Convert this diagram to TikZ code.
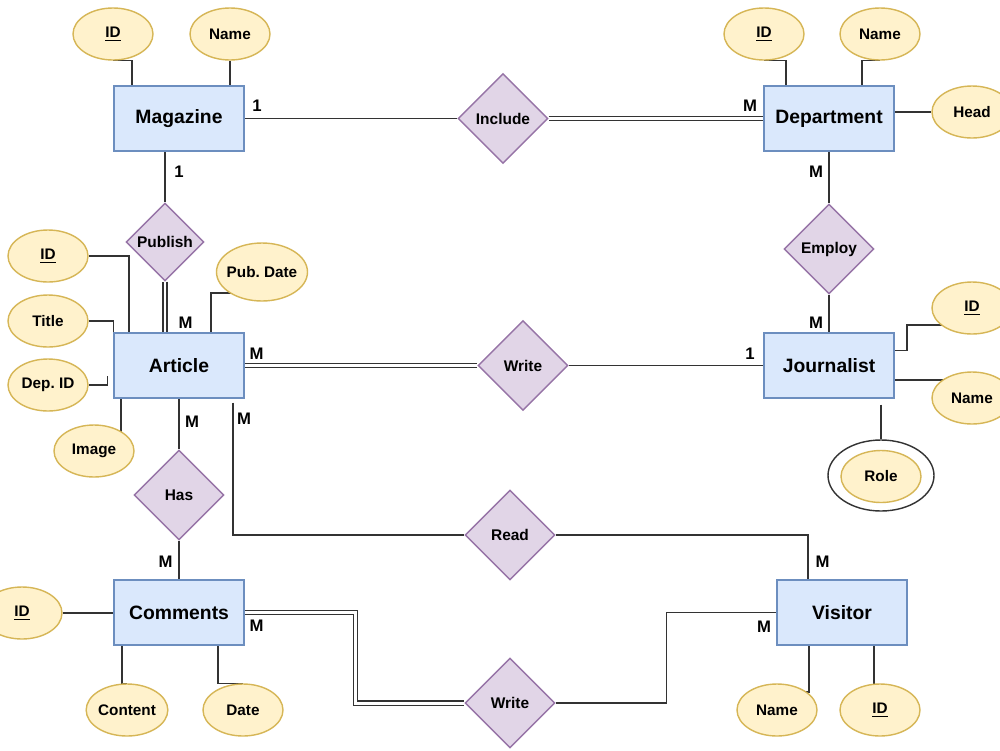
\documentclass[tikz,border=0pt]{standalone}
\usepackage{fontspec}
\setmainfont{Liberation Sans}
\usetikzlibrary{shapes.geometric}
\usetikzlibrary{calc,backgrounds}

\definecolor{entfill}{HTML}{DAE8FC}
\definecolor{entline}{HTML}{6C8EBF}
\definecolor{attfill}{HTML}{FFF2CC}
\definecolor{attline}{HTML}{D6B656}
\definecolor{relfill}{HTML}{E1D5E7}
\definecolor{relline}{HTML}{9673A6}
\definecolor{wire}{HTML}{333333}

\begin{document}
\begin{tikzpicture}[
  entity/.style={draw=entline, fill=entfill, line width=0.8pt, minimum width=2.6cm, minimum height=1.3cm, font=\fontsize{11}{13}\selectfont\bfseries},
  attr/.style={ellipse, draw=attline, fill=attfill, line width=0.8pt, minimum width=1.6cm, minimum height=1.04cm, inner sep=0pt, font=\fontsize{8.7}{10}\selectfont\bfseries},
  rel/.style={diamond, draw=relline, fill=relfill, line width=0.8pt, minimum size=1.8cm, inner sep=0pt, font=\fontsize{8.8}{10}\selectfont\bfseries},
  card/.style={inner sep=0pt, font=\fontsize{9.5}{11}\selectfont\bfseries},
  link/.style={draw=wire, line width=0.75pt},
  dbl/.style={draw=wire, line width=0.7pt, double, double distance=1.7pt},
]
\useasboundingbox (0,0) rectangle (20,-15);

% entities
\node[entity] (mag)  at (3.58,-2.37)  {Magazine};
\node[entity] (dept) at (16.58,-2.37) {Department};
\node[entity] (art)  at (3.58,-7.31)  {Article};
\node[entity] (jour) at (16.58,-7.31) {Journalist};
\node[entity] (comm) at (3.58,-12.25) {Comments};
\node[entity] (vis)  at (16.84,-12.25) {Visitor};

% relationships
\node[rel] (include) at (10.06,-2.37) {Include};
\node[rel, minimum size=1.56cm] (publish) at (3.30,-4.84) {Publish};
\node[rel] (employ)  at (16.58,-4.98) {Employ};
\node[rel] (writeA)  at (10.46,-7.31) {Write};
\node[rel] (has)     at (3.58,-9.90)  {Has};
\node[rel] (read)    at (10.20,-10.70) {Read};
\node[rel] (writeB)  at (10.20,-14.06) {Write};

% attributes
\foreach \n/\x/\y/\t in {magid/2.26/-0.68/{\underline{ID}}, magname/4.60/-0.68/Name,
  deptid/15.28/-0.68/{\underline{ID}}, deptname/17.60/-0.68/Name, head/19.44/-2.24/Head,
  artid/0.96/-5.12/{\underline{ID}}, title/0.96/-6.42/Title, depid/0.96/-7.70/{Dep.\ ID},
  image/1.88/-9.02/Image, jourid/19.44/-6.16/{\underline{ID}}, journame/19.44/-7.96/Name,
  commid/0.44/-12.26/{\underline{ID}}, content/2.54/-14.20/Content, date/4.86/-14.20/Date,
  visname/15.54/-14.20/Name, visid/17.60/-14.20/{\underline{ID}}}
  \node[attr] (\n) at (\x,\y) {\t};
\node[attr, inner xsep=-2pt, minimum width=1.82cm, minimum height=1.16cm] (pubdate) at (5.24,-5.44) {Pub.\ Date};
\node[ellipse, draw=black!80, fill=white, line width=0.8pt, minimum width=2.12cm, minimum height=1.42cm] (roleo) at (17.62,-9.51) {};
\node[attr] (role) at (17.62,-9.53) {Role};

% cardinalities
\node[card] (c1)  at (5.14,-2.12)  {1};
\node[card] (c2)  at (15.0,-2.12)  {M};
\node[card] (c3)  at (3.58,-3.44)  {1};
\node[card] (c4)  at (16.32,-3.44) {M};
\node[card] (c5)  at (3.71,-6.45)  {M};
\node[card] (c6)  at (16.32,-6.45) {M};
\node[card] (c7)  at (5.13,-7.08)  {M};
\node[card] (c8)  at (15.0,-7.08)  {1};
\node[card] (c9)  at (3.84,-8.43)  {M};
\node[card] (c10) at (4.88,-8.38)  {M};
\node[card] (c11) at (3.31,-11.23) {M};
\node[card] (c12) at (16.45,-11.23) {M};
\node[card] (c13) at (5.13,-12.52) {M};
\node[card] (c14) at (15.28,-12.53) {M};

\begin{scope}[on background layer]
\fill[white] (0,0) rectangle (20,-15);
% relationship lines
\draw[link] (mag.east) -- (include.west);
\draw[dbl]  (include.east) -- (dept.west);
\draw[link] (mag.south -| publish.north) -- (publish.north);
\draw[dbl]  (publish.south) -- (art.north -| publish.south);
\draw[link] (dept.south) -- (employ.north);
\draw[link] (employ.south) -- (jour.north);
\draw[dbl]  (art.east) -- (writeA.west);
\draw[link] (writeA.east) -- (jour.west);
\draw[link] (art.south) -- (has.north);
\draw[link] (has.south) -- (comm.north);
\draw[link] ($(art.south)+(1.08,-0.08)$) |- (read.west);
\draw[link] (read.east) -| ([xshift=-0.68cm]vis.north);
\draw[dbl]  (comm.east) -- ++(2.22,0) |- (writeB.west);
\draw[link] (writeB.east) -- ++(2.22,0) |- (vis.west);
% attribute lines
\draw[link] (magid.south) -| ([xshift=-0.94cm]mag.north);
\draw[link] (magname.south) -- (mag.north -| magname.south);
\draw[link] (deptid.south) -| ([xshift=-0.86cm]dept.north);
\draw[link] (deptname.south) -| ([xshift=0.66cm]dept.north);
\draw[link] (dept.east |- head.west) -- (head.west);
\draw[link] (artid.east) -| ([xshift=-1.0cm]art.north);
\draw[link] (title.east) -| ([yshift=-0.3cm]art.north west);
\draw[link] (depid.east) -| ([xshift=-0.12cm,yshift=-0.2cm]art.west);
\draw[link] ([xshift=-1.16cm]art.south) -- ([xshift=-1.16cm]art.south |- image.center);
\draw[link] ([yshift=-0.42cm]pubdate.center) -| ([xshift=0.64cm]art.north);
\draw[link] ([yshift=-0.34cm]jourid.center) -- ++(-1.3,0) |- ([yshift=0.3cm]jour.east);
\draw[link] ([yshift=-0.29cm]jour.east) -- ++(1.2,0);
\draw[link] ($(jour.south -| roleo.north)+(0,-0.12)$) -- (roleo.north);
\draw[link] (commid.east) -- (commid.east -| comm.west);
\draw[link] ([xshift=-1.14cm]comm.south) |- (content.north);
\draw[link] ([xshift=0.78cm]comm.south) |- (date.north);
\draw[link] ([xshift=-0.66cm]vis.south) |- ([yshift=0.36cm]visname.center);
\draw[link] ([xshift=0.64cm]vis.south) -- ([xshift=0.64cm]vis.south |- visid.center);
\end{scope}
\end{tikzpicture}
\end{document}
